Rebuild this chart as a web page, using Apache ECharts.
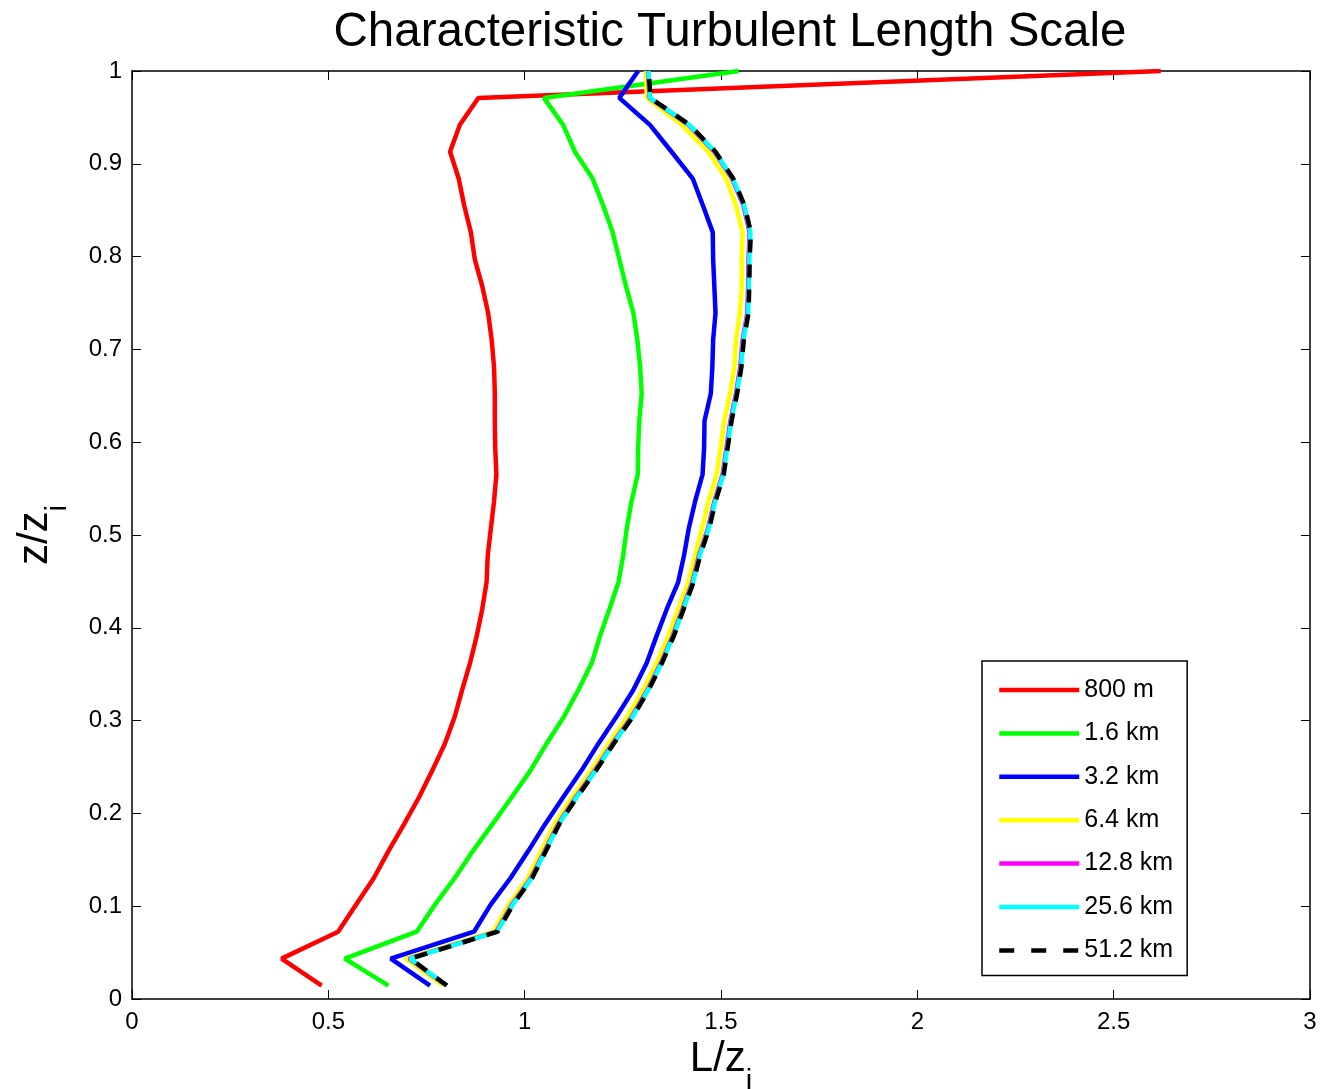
<!DOCTYPE html>
<html>
<head>
<meta charset="utf-8">
<title>Characteristic Turbulent Length Scale</title>
<script src="https://cdn.jsdelivr.net/npm/echarts@6/dist/echarts.min.js"></script>
<style>
    html, body { margin: 0; padding: 0; background: #fff; }
    #chart { width: 1322px; height: 1089px; }
</style>
</head>
<body>
<div id="chart"></div>
<script>
// height levels z/zi (bottom -> top)
var zLevels = [0.0145, 0.0435, 0.0725, 0.1014, 0.1304, 0.1594, 0.1884, 0.2174, 0.2464, 0.2754,
               0.3043, 0.3333, 0.3623, 0.3913, 0.4203, 0.4493, 0.4783, 0.5072, 0.5362, 0.5652,
               0.5942, 0.6232, 0.6522, 0.6812, 0.7101, 0.7391, 0.7681, 0.7971, 0.8261, 0.8551,
               0.8841, 0.9130, 0.9420, 0.9710, 1.0000];

// L/zi for each domain size
var L800m = [0.483, 0.381, 0.525, 0.570, 0.616, 0.653, 0.693, 0.731, 0.765, 0.797,
             0.822, 0.841, 0.861, 0.878, 0.892, 0.903, 0.906, 0.914, 0.922, 0.928,
             0.925, 0.924, 0.924, 0.922, 0.916, 0.907, 0.892, 0.873, 0.863, 0.846,
             0.832, 0.810, 0.835, 0.882, 2.620];
var L1600m = [0.653, 0.542, 0.725, 0.771, 0.822, 0.868, 0.918, 0.967, 1.015, 1.056,
              1.100, 1.137, 1.171, 1.192, 1.216, 1.239, 1.251, 1.260, 1.272, 1.288,
              1.289, 1.292, 1.298, 1.294, 1.287, 1.277, 1.258, 1.241, 1.224, 1.200,
              1.173, 1.128, 1.098, 1.049, 1.545];
var L3200m = [0.759, 0.659, 0.871, 0.913, 0.964, 1.009, 1.052, 1.098, 1.145, 1.188,
              1.234, 1.277, 1.311, 1.336, 1.362, 1.391, 1.406, 1.418, 1.434, 1.453,
              1.457, 1.458, 1.474, 1.478, 1.480, 1.486, 1.483, 1.480, 1.479, 1.454,
              1.428, 1.374, 1.319, 1.241, 1.289];
var L6400m = [0.792, 0.697, 0.920, 0.959, 1.008, 1.042, 1.076, 1.121, 1.170, 1.215,
              1.262, 1.302, 1.336, 1.366, 1.391, 1.417, 1.434, 1.452, 1.468, 1.489,
              1.499, 1.508, 1.523, 1.534, 1.538, 1.548, 1.553, 1.553, 1.555, 1.538,
              1.513, 1.468, 1.400, 1.311, 1.309];
var L12800m = [0.800, 0.706, 0.928, 0.967, 1.016, 1.051, 1.085, 1.130, 1.179, 1.224,
               1.273, 1.313, 1.347, 1.377, 1.402, 1.427, 1.444, 1.467, 1.483, 1.504,
               1.514, 1.524, 1.538, 1.549, 1.555, 1.567, 1.569, 1.570, 1.573, 1.557,
               1.528, 1.483, 1.417, 1.318, 1.314];
var L25600m = [0.801, 0.708, 0.930, 0.969, 1.018, 1.053, 1.087, 1.132, 1.181, 1.226,
               1.275, 1.315, 1.349, 1.379, 1.404, 1.429, 1.446, 1.469, 1.485, 1.506,
               1.516, 1.526, 1.540, 1.551, 1.557, 1.569, 1.571, 1.572, 1.575, 1.559,
               1.530, 1.485, 1.419, 1.319, 1.315];
var L51200m = [0.802, 0.709, 0.931, 0.970, 1.019, 1.054, 1.088, 1.133, 1.182, 1.227,
               1.276, 1.316, 1.350, 1.380, 1.405, 1.430, 1.447, 1.470, 1.486, 1.507,
               1.517, 1.527, 1.541, 1.552, 1.558, 1.570, 1.572, 1.573, 1.576, 1.560,
               1.531, 1.486, 1.420, 1.320, 1.316];

var legendNames = ['800 m', '1.6 km', '3.2 km', '6.4 km', '12.8 km', '25.6 km', '51.2 km'];

(function () {
    var font = '"Liberation Sans", Helvetica, Arial, sans-serif';
    var chart = echarts.init(document.getElementById('chart'));

    var lines = [
        { vals: L800m,   color: '#ff0000', type: 'solid' },
        { vals: L1600m,  color: '#00ff00', type: 'solid' },
        { vals: L3200m,  color: '#0000ff', type: 'solid' },
        { vals: L6400m,  color: '#ffff00', type: 'solid' },
        { vals: L12800m, color: '#ff00ff', type: 'solid' },
        { vals: L25600m, color: '#00ffff', type: 'solid' },
        { vals: L51200m, color: '#000000', type: [13, 12] }
    ];

    var series = lines.map(function (ln, i) {
        return {
            name: legendNames[i],
            type: 'line',
            xAxisIndex: 0,
            yAxisIndex: 0,
            symbol: 'none',
            z: 2 + i,
            data: zLevels.map(function (z, k) { return [ln.vals[k], z]; }),
            itemStyle: { color: ln.color },
            lineStyle: { color: ln.color, width: 4.5, type: ln.type }
        };
    });

    // legend entries, the dashed one gets its own dash pattern
    var legendData = legendNames.map(function (n, i) {
        if (i === legendNames.length - 1) {
            return { name: n, lineStyle: { type: [15, 17] } };
        }
        return { name: n };
    });

    // box axes: ticks inside on all four sides
    var axisBase = {
        type: 'value',
        axisLine: { show: true, onZero: false, lineStyle: { color: '#000', width: 1.5 } },
        axisTick: { show: true, inside: true, length: 9, lineStyle: { color: '#000', width: 1 } },
        splitLine: { show: false }
    };

    // axis names with a subscript i
    var nameRich = {
        m: { fontFamily: font, fontSize: 42, color: '#000', lineHeight: 58, verticalAlign: 'top' },
        s: { fontFamily: font, fontSize: 29, color: '#000', lineHeight: 58, verticalAlign: 'bottom' }
    };

    var option = {
        animation: false,
        backgroundColor: '#fff',
        title: {
            text: 'Characteristic Turbulent Length Scale',
            left: 725,
            textAlign: 'center',
            top: 4,
            textStyle: { fontFamily: font, fontSize: 47.5, fontWeight: 'normal', color: '#000' }
        },
        legend: {
            orient: 'vertical',
            left: 982,
            top: 661,
            data: legendData,
            itemWidth: 80,
            itemHeight: 20,
            itemGap: 18.4,
            padding: [16.5, 14, 12.5, 15],
            borderColor: '#000',
            borderWidth: 1.5,
            borderRadius: 0,
            backgroundColor: '#fff',
            selectedMode: false,
            itemStyle: { opacity: 0 },
            lineStyle: { width: 4.5 },
            textStyle: { fontFamily: font, fontSize: 25, color: '#000' }
        },
        grid: { left: 132, top: 71, width: 1178, height: 928, outerBoundsMode: 'none', containLabel: false },
        xAxis: [
            Object.assign({}, axisBase, {
                position: 'bottom', min: 0, max: 3, interval: 0.5,
                name: '{m|L/z}{s|i}',
                nameLocation: 'middle',
                nameGap: 24,
                nameTextStyle: { rich: nameRich },
                axisLabel: { margin: 11, fontFamily: font, fontSize: 24, color: '#000' }
            }),
            Object.assign({}, axisBase, {
                position: 'top', min: 0, max: 3, interval: 0.5,
                axisLabel: { show: false }
            })
        ],
        yAxis: [
            Object.assign({}, axisBase, {
                position: 'left', min: 0, max: 1, interval: 0.1,
                name: '{m|z/z}{s|i}',
                nameLocation: 'middle',
                nameRotate: 90,
                nameGap: 60,
                nameTextStyle: { rich: nameRich },
                axisLabel: { margin: 10, fontFamily: font, fontSize: 24, color: '#000' }
            }),
            Object.assign({}, axisBase, {
                position: 'right', min: 0, max: 1, interval: 0.1,
                axisLabel: { show: false }
            })
        ],
        series: series
    };

    chart.setOption(option);
})();
</script>
</body>
</html>
